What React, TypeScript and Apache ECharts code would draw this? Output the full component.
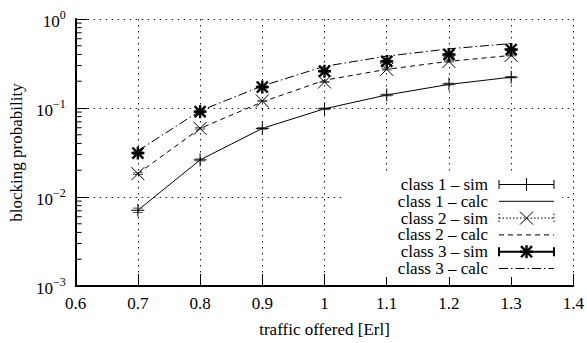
import React, { useEffect, useRef } from 'react';
import * as echarts from 'echarts';

const traffic = [0.7, 0.8, 0.9, 1.0, 1.1, 1.2, 1.3];

const class1Sim = [0.0071, 0.0261, 0.059, 0.098, 0.14, 0.186, 0.222];
const class1Err = [0.0004, 0.0007, 0.0012, 0.002, 0.003, 0.004, 0.004];
const class1Calc = [0.0071, 0.0261, 0.059, 0.098, 0.14, 0.184, 0.222];

const class2Sim = [0.0183, 0.059, 0.12, 0.196, 0.272, 0.334, 0.39];
const class2Err = [0.0004, 0.001, 0.002, 0.003, 0.004, 0.005, 0.005];
const class2Calc = [0.0183, 0.059, 0.117, 0.205, 0.272, 0.334, 0.39];

const class3Sim = [0.0312, 0.091, 0.172, 0.259, 0.334, 0.4, 0.454];
const class3Err = [0.0006, 0.0015, 0.003, 0.004, 0.005, 0.006, 0.006];
const class3Calc = [0.033, 0.093, 0.177, 0.294, 0.382, 0.462, 0.53];

const minorTickValues = [
  0.002, 0.003, 0.004, 0.005, 0.006, 0.007, 0.008, 0.009,
  0.02, 0.03, 0.04, 0.05, 0.06, 0.07, 0.08, 0.09,
  0.2, 0.3, 0.4, 0.5, 0.6, 0.7, 0.8, 0.9,
];

const legendLabels = [
  'class 1 \u2013 sim',
  'class 1 \u2013 calc',
  'class 2 \u2013 sim',
  'class 2 \u2013 calc',
  'class 3 \u2013 sim',
  'class 3 \u2013 calc',
];

const FONT = 'Liberation Serif, Times New Roman, serif';
const DASH2 = [5, 4];
const DASHDOT3 = [9, 3, 1.5, 3];
const DOT_ERR = [1.5, 2];

type Kind = 'plus' | 'x' | 'star';

function markerChildren(cx: number, cy: number, kind: Kind, h: number) {
  const lw = kind === 'star' ? 2.4 : 1;
  const st = { stroke: '#000', lineWidth: lw, fill: 'none' };
  const out: any[] = [];
  if (kind === 'plus' || kind === 'star') {
    out.push({ type: 'line', shape: { x1: cx - h, y1: cy, x2: cx + h, y2: cy }, style: st });
    out.push({ type: 'line', shape: { x1: cx, y1: cy - h, x2: cx, y2: cy + h }, style: st });
  }
  if (kind === 'x' || kind === 'star') {
    const d = kind === 'star' ? h * 0.85 : h;
    out.push({ type: 'line', shape: { x1: cx - d, y1: cy - d, x2: cx + d, y2: cy + d }, style: st });
    out.push({ type: 'line', shape: { x1: cx - d, y1: cy + d, x2: cx + d, y2: cy - d }, style: st });
  }
  return out;
}

function simSeries(name: string, values: number[], errs: number[], kind: Kind) {
  return {
    type: 'custom',
    name,
    silent: true,
    z: 6,
    data: traffic.map((x, i) => [x, values[i], values[i] - errs[i], values[i] + errs[i]]),
    encode: { x: 0, y: 1 },
    renderItem: (_params: any, api: any) => {
      const x = api.value(0);
      const p = api.coord([x, api.value(1)]);
      const lo = api.coord([x, api.value(2)]);
      const hi = api.coord([x, api.value(3)]);
      const lw = kind === 'star' ? 2 : 1;
      const est: any = { stroke: '#000', lineWidth: lw, fill: 'none' };
      if (kind === 'x') est.lineDash = DOT_ERR;
      const cw = 5;
      const children: any[] = [
        { type: 'line', shape: { x1: p[0], y1: lo[1], x2: p[0], y2: hi[1] }, style: est },
        { type: 'line', shape: { x1: p[0] - cw, y1: lo[1], x2: p[0] + cw, y2: lo[1] }, style: { stroke: '#555', lineWidth: lw, fill: 'none' } },
        { type: 'line', shape: { x1: p[0] - cw, y1: hi[1], x2: p[0] + cw, y2: hi[1] }, style: { stroke: '#555', lineWidth: lw, fill: 'none' } },
        ...markerChildren(p[0], p[1], kind, 6.5),
      ];
      return { type: 'group', children };
    },
  };
}

function calcSeries(name: string, values: number[], dash: any) {
  return {
    type: 'line',
    name,
    silent: true,
    z: 4,
    symbol: 'none',
    data: traffic.map((x, i) => [x, values[i]]),
    lineStyle: { color: '#000', width: 1, type: dash },
  };
}

function legendGraphic() {
  const rowY0 = 184.5;
  const rowH = 16.8;
  const textRight = 488;
  const l0 = 499;
  const l1 = 554;
  const mx = 526.5;
  const els: any[] = [
    { type: 'rect', shape: { x: 343, y: 174, width: 219, height: 103 }, style: { fill: '#fff' }, z: 20, silent: true },
    {
      type: 'text',
      x: textRight,
      y: rowY0 + 2.5 * rowH,
      z: 21,
      silent: true,
      style: {
        text: legendLabels.join('\n'),
        align: 'right',
        verticalAlign: 'middle',
        fontSize: 17,
        fontFamily: FONT,
        lineHeight: rowH,
        fill: '#000',
      },
    },
  ];
  legendLabels.forEach((_label, i) => {
    const y = rowY0 + i * rowH;
    const isSim = i % 2 === 0;
    const cls = Math.floor(i / 2);
    let lineStyle: any = { stroke: '#000', lineWidth: 1, fill: 'none' };
    if (isSim) {
      if (cls === 1) lineStyle.lineDash = DOT_ERR;
      if (cls === 2) lineStyle.lineWidth = 2;
    } else {
      if (cls === 1) lineStyle.lineDash = DASH2;
      if (cls === 2) lineStyle.lineDash = DASHDOT3;
    }
    els.push({ type: 'line', z: 21, silent: true, shape: { x1: l0, y1: y, x2: l1, y2: y }, style: lineStyle });
    if (isSim) {
      const capStyle = { ...lineStyle };
      els.push({ type: 'line', z: 21, silent: true, shape: { x1: l0, y1: y - 4.5, x2: l0, y2: y + 4.5 }, style: capStyle });
      els.push({ type: 'line', z: 21, silent: true, shape: { x1: l1, y1: y - 4.5, x2: l1, y2: y + 4.5 }, style: capStyle });
      const kind: Kind = cls === 0 ? 'plus' : cls === 1 ? 'x' : 'star';
      markerChildren(mx, y, kind, 6.5).forEach((c) => els.push({ ...c, z: 22, silent: true }));
    }
  });
  return els;
}

function supLabel(v: number) {
  const e = Math.round(Math.log10(v));
  const s = e < 0 ? '\u2212' + String(-e) : String(e);
  return `{b|10}{s|${s}}`;
}

export default function App() {
  const ref = useRef<HTMLDivElement>(null);
  useEffect(() => {
    if (!ref.current) return;
    const chart = echarts.init(ref.current, undefined, { renderer: 'svg' });
    const gridLine = { show: true, lineStyle: { color: '#222', width: 1, type: [1.5, 4.5] } };
    chart.setOption({
      animation: false,
      backgroundColor: '#fff',
      textStyle: { fontFamily: FONT, color: '#000' },
      grid: { left: 65, right: 13, top: 19, bottom: 53, containLabel: false },
      xAxis: {
        type: 'value',
        min: 0.6,
        max: 1.4,
        interval: 0.1,
        name: 'traffic offered [Erl]',
        nameLocation: 'middle',
        nameGap: 35,
        nameTextStyle: { fontSize: 17, color: '#000', fontFamily: FONT },
        axisLine: { show: true, lineStyle: { color: '#000', width: 2 } },
        axisTick: { show: true, inside: true, length: 12, lineStyle: { color: '#000', width: 1 } },
        axisLabel: {
          fontSize: 17,
          color: '#000',
          fontFamily: FONT,
          margin: 9,
          formatter: (v: number) => String(Math.round(v * 10) / 10),
        },
        splitLine: gridLine,
      },
      yAxis: {
        type: 'log',
        logBase: 10,
        min: 0.001,
        max: 1,
        name: 'blocking probability',
        nameLocation: 'middle',
        nameGap: 43,
        nameTextStyle: { fontSize: 17, color: '#000', fontFamily: FONT },
        axisLine: { show: true, lineStyle: { color: '#000', width: 2 } },
        axisTick: { show: true, inside: true, length: 12, lineStyle: { color: '#000', width: 1 } },
        axisLabel: {
          color: '#000',
          margin: 10,
          formatter: supLabel,
          rich: {
            b: { fontSize: 17, fontFamily: FONT, color: '#000', verticalAlign: 'bottom' },
            s: { fontSize: 12, fontFamily: FONT, color: '#000', verticalAlign: 'bottom', padding: [0, 0, 9, 0] },
          },
        },
        splitLine: gridLine,
      },
      series: [
        calcSeries('class 1 \u2013 calc', class1Calc, 'solid'),
        calcSeries('class 2 \u2013 calc', class2Calc, DASH2),
        calcSeries('class 3 \u2013 calc', class3Calc, DASHDOT3),
        simSeries('class 1 \u2013 sim', class1Sim, class1Err, 'plus'),
        simSeries('class 2 \u2013 sim', class2Sim, class2Err, 'x'),
        simSeries('class 3 \u2013 sim', class3Sim, class3Err, 'star'),
        {
          type: 'custom',
          name: 'minorTicks',
          silent: true,
          z: 3,
          data: minorTickValues.map((v) => [0.6, v]),
          encode: { x: 0, y: 1 },
          renderItem: (_params: any, api: any) => {
            const p = api.coord([api.value(0), api.value(1)]);
            return {
              type: 'line',
              shape: { x1: p[0], y1: p[1], x2: p[0] + 6, y2: p[1] },
              style: { stroke: '#000', lineWidth: 1, fill: 'none' },
            };
          },
        },
      ],
      graphic: legendGraphic(),
    });
    return () => chart.dispose();
  }, []);
  return (
    <div
      ref={ref}
      style={{ position: 'fixed', left: 0, top: 0, width: 587, height: 343, background: '#fff', fontFamily: FONT }}
    />
  );
}
